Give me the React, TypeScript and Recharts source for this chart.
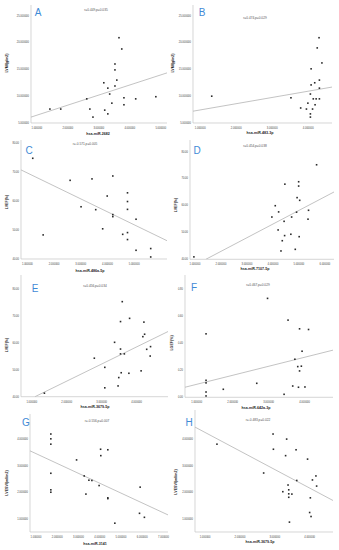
import React from 'react';
import { ScatterChart, Scatter, XAxis, YAxis } from 'recharts';

type P = { x: number; y: number };
const mk = (arr: number[][]): P[] => arr.map(([x, y]) => ({ x, y }));

// ---- Panel A ----
const pointsA = mk([[1.42,7.6],[1.77,7.6],[2.61,9.5],[2.71,7.6],[2.81,6.1],[3.16,12.5],[3.19,7.4],[3.29,11.5],[3.29,6.7],[3.35,10.4],[3.42,8.7],[3.52,16.0],[3.52,14.9],[3.52,11.9],[3.58,13.0],[3.65,20.9],[3.74,18.8],[3.81,9.7],[3.81,8.4],[4.19,9.5],[4.84,9.9]]);
const fitA = mk([[0.81,6.1],[5.23,14.4]]);
// ---- Panel B ----
const pointsB = mk([[1.32,10.0],[3.52,9.7],[3.79,7.8],[3.95,7.6],[3.99,8.7],[4.06,10.4],[4.08,12.1],[4.08,15.1],[4.06,6.7],[4.06,6.1],[4.12,7.6],[4.14,9.5],[4.18,12.5],[4.19,8.4],[4.22,9.5],[4.25,19.0],[4.30,20.9],[4.31,13.0],[4.31,11.5],[4.31,9.5],[4.38,16.2]]);
const fitB = mk([[0.80,7.2],[4.66,11.7]]);
// ---- Panel C ----
const pointsC = mk([[1.20,74.7],[1.59,48.3],[2.60,67.1],[3.01,58.0],[3.42,67.6],[3.56,57.0],[3.82,50.4],[3.99,61.7],[4.20,68.6],[4.20,55.3],[4.20,54.6],[4.57,48.5],[4.75,62.8],[4.75,59.8],[4.75,57.1],[4.75,49.1],[4.75,46.7],[5.07,53.7],[5.07,43.0],[5.62,43.6],[5.62,40.7]]);
const fitC = mk([[0.76,70.7],[6.23,46.3]]);
// ---- Panel D ----
const pointsD = mk([[0.96,40.9],[4.31,43.1],[4.36,46.9],[4.45,48.8],[4.20,50.9],[3.96,55.7],[4.43,54.1],[4.22,57.6],[4.09,59.9],[4.46,67.9],[4.69,49.3],[4.72,55.7],[4.86,43.7],[4.91,57.5],[4.93,62.9],[4.99,68.8],[4.99,67.2],[5.03,61.9],[5.01,48.4],[5.35,54.9],[5.37,58.2],[5.68,75.1]]);
const fitD = mk([[1.42,40],[6.35,65.0]]);
// ---- Panel E ----
const pointsE = mk([[1.36,41.3],[2.79,54.3],[3.09,50.9],[3.09,43.3],[3.37,60.2],[3.47,44.0],[3.49,47.1],[3.54,57.7],[3.54,55.9],[3.54,67.9],[3.56,48.9],[3.59,75.3],[3.65,55.9],[3.78,48.7],[3.80,69.1],[4.13,49.6],[4.18,62.3],[4.21,67.7],[4.23,63.2],[4.29,57.6],[4.39,55.1],[4.40,58.6]]);
const fitE = mk([[1.09,40],[4.90,64.2]]);
// ---- Panel F ----
const pointsF = mk([[1.26,0.467],[1.26,0.125],[1.26,0.106],[1.26,0.039],[1.26,0.010],[1.74,0.059],[2.67,0.103],[2.97,0.728],[3.43,0.022],[3.54,0.568],[3.67,0.083],[3.73,0.280],[3.81,0.226],[3.83,0.074],[3.86,0.504],[3.86,0.194],[3.91,0.229],[3.93,0.339],[4.01,0.076],[4.11,0.499]]);
const fitF = mk([[0.675,0.074],[4.79,0.347]]);
// ---- Panel G ----
const pointsG = mk([[1.70,4.19],[1.70,4.01],[1.70,3.81],[1.70,2.72],[1.70,2.10],[1.70,2.01],[2.91,3.22],[3.27,2.62],[3.35,1.94],[3.49,2.46],[3.63,2.45],[3.97,2.26],[4.04,3.62],[4.05,3.38],[4.38,3.60],[4.38,1.80],[4.38,1.77],[4.71,0.85],[5.90,2.20],[5.87,1.22],[6.10,1.07]]);
const fitG = mk([[0.72,3.56],[7.21,1.16]]);
// ---- Panel H ----
const pointsH = mk([[1.34,3.81],[2.68,2.73],[2.95,4.19],[2.96,3.62],[3.23,2.03],[3.31,3.38],[3.34,4.00],[3.38,2.28],[3.40,2.10],[3.40,1.95],[3.40,1.82],[3.49,1.94],[3.42,0.89],[3.61,3.60],[3.63,2.45],[3.94,3.25],[4.00,1.25],[4.02,1.80],[4.04,1.10],[4.08,2.47],[4.18,2.62],[4.20,2.24]]);
const fitH = mk([[0.71,4.45],[4.67,1.70]]);

const ticksLVMI = [5, 10, 15, 20, 25];
const ticksLVEF = [40, 50, 60, 70, 80];
const ticksLGEF = [0, 0.2, 0.4, 0.6, 0.8];
const ticksLVESV = [1, 2, 3, 4];
const ticksX4 = [1, 2, 3, 4];
const ticksX5 = [1, 2, 3, 4, 5];
const ticksX6 = [1, 2, 3, 4, 5, 6];
const ticksX7 = [1, 2, 3, 4, 5, 6, 7];

const letters = ['A', 'B', 'C', 'D', 'E', 'F', 'G', 'H'];
const stats = ['r=0.449,p=0.035', 'r=0.474,p=0.029', 'r=-0.571,p=0.005', 'r=0.454,p=0.038', 'r=0.456,p=0.034', 'r=0.467,p=0.029', 'r=-0.556,p=0.007', 'r=-0.483,p=0.022'];
const xTitles = ['hsa-miR-2682', 'hsa-miR-483-3p', 'hsa-miR-486a-5p', 'hsa-miR-7107-5p', 'hsa-miR-3679-5p', 'hsa-miR-642a-3p', 'hsa-miR-3141', 'hsa-miR-3679-5p'];
const yTitles = ['LVMI(g/m2)', 'LVMI(g/m2)', 'LVEF(%)', 'LVEF(%)', 'LVEF(%)', 'LGEF(%)', 'LVESVI(ml/m2)', 'LVESVI(ml/m2)'];

type Cfg = {
  px: number; py: number; w: number; h: number;
  l: number; t: number; r: number; b: number;
  xd: [number, number]; yd: [number, number];
  xt: number[]; yt: number[]; yf: number;
  pts: P[]; fit: P[];
  letter: [number, number]; stat: [number, number]; xTitle: [number, number]; yTitle: [number, number];
};

const panels: Cfg[] = [
  { px: 0, py: 0, w: 170, h: 140, l: 31, t: 5, r: 167, b: 123, xd: [0.81, 5.2], yd: [5, 27], xt: ticksX5, yt: ticksLVMI, yf: 6, pts: pointsA, fit: fitA, letter: [38, 13], stat: [96, 11], xTitle: [98, 135], yTitle: [8, 63] },
  { px: 170, py: 0, w: 169, h: 140, l: 23, t: 5, r: 162, b: 123, xd: [0.8, 4.66], yd: [5, 27], xt: ticksX4, yt: ticksLVMI, yf: 6, pts: pointsB, fit: fitB, letter: [32, 13], stat: [85, 19], xTitle: [90, 134], yTitle: [4, 63] },
  { px: 0, py: 140, w: 170, h: 135, l: 21, t: 0, r: 167, b: 119, xd: [0.76, 6.23], yd: [40, 81], xt: ticksX5, yt: ticksLVEF, yf: 2, pts: pointsC, fit: fitC, letter: [29, 11], stat: [85, 5], xTitle: [90, 132], yTitle: [8, 62] },
  { px: 170, py: 140, w: 169, h: 135, l: 20, t: 0, r: 164, b: 119.3, xd: [0.81, 6.35], yd: [40, 84.3], xt: ticksX6, yt: ticksLVEF, yf: 2, pts: pointsD, fit: fitD, letter: [27, 11], stat: [85, 7], xTitle: [85, 130], yTitle: [7, 65] },
  { px: 0, py: 275, w: 170, h: 135, l: 21, t: 0, r: 168, b: 121.7, xd: [0.69, 4.9], yd: [40, 85.2], xt: ticksX4, yt: ticksLVEF, yf: 2, pts: pointsE, fit: fitE, letter: [35, 14], stat: [95, 12], xTitle: [95, 133], yTitle: [8, 70] },
  { px: 170, py: 275, w: 169, h: 135, l: 15, t: 0, r: 163, b: 122.3, xd: [0.675, 4.79], yd: [0, 0.9], xt: ticksX4, yt: ticksLGEF, yf: 2, pts: pointsF, fit: fitF, letter: [24, 13], stat: [88, 11], xTitle: [86, 134], yTitle: [3, 68] },
  { px: 0, py: 410, w: 170, h: 140, l: 30, t: 4, r: 168, b: 122, xd: [0.72, 7.21], yd: [0.52, 4.94], xt: ticksX7, yt: ticksLVESV, yf: 6, pts: pointsG, fit: fitG, letter: [26, 13], stat: [97, 12], xTitle: [95, 135], yTitle: [8, 73] },
  { px: 170, py: 410, w: 169, h: 140, l: 25, t: 0, r: 163, b: 122, xd: [0.71, 4.67], yd: [0.52, 5.09], xt: ticksX4, yt: ticksLVESV, yf: 6, pts: pointsH, fit: fitH, letter: [19, 13], stat: [88, 11], xTitle: [90, 133], yTitle: [7, 72] },
];

const FONT = '"Liberation Sans", Arial, sans-serif';
const Dot = (p: any) => <rect x={p.cx - 0.8} y={p.cy - 0.8} width={1.6} height={1.6} fill="#2a2a2a" />;
const NoDot = () => <g />;

function Panel({ c, i }: { c: Cfg; i: number }) {
  const tickStyle = { fontSize: 2.6, fill: '#444', fontFamily: FONT };
  return (
    <div style={{ position: 'absolute', left: c.px, top: c.py, width: c.w, height: c.h }}>
      <ScatterChart width={c.w} height={c.h} margin={{ left: c.l - 1, top: c.t, right: c.w - c.r, bottom: c.h - c.b - 1 }}>
        <XAxis type="number" dataKey="x" domain={c.xd} ticks={c.xt} allowDataOverflow height={1}
          tick={tickStyle} tickLine={false} tickSize={0} tickMargin={4}
          axisLine={{ stroke: '#c4c4c4', strokeWidth: 0.7 }} tickFormatter={(v: number) => v.toFixed(6)} />
        <YAxis type="number" dataKey="y" domain={c.yd} ticks={c.yt} allowDataOverflow width={1}
          tick={tickStyle} tickLine={false} tickSize={0} tickMargin={2}
          axisLine={{ stroke: '#c4c4c4', strokeWidth: 0.7 }} tickFormatter={(v: number) => v.toFixed(c.yf)} />
        <Scatter data={c.fit} line={{ stroke: '#b4b4b4', strokeWidth: 0.8 }} shape={NoDot} isAnimationActive={false} legendType="none" />
        <Scatter data={c.pts} shape={Dot} isAnimationActive={false} legendType="none" />
      </ScatterChart>
      <div style={{ position: 'absolute', left: c.letter[0], top: c.letter[1], transform: 'translate(-50%,-50%)', color: '#3f8ad6', fontSize: 10, fontFamily: FONT, lineHeight: 1 }}>{letters[i]}</div>
      <div style={{ position: 'absolute', left: c.stat[0], top: c.stat[1], transform: 'translate(-50%,-50%)', color: '#555', fontSize: 3.2, fontFamily: FONT, whiteSpace: 'nowrap', lineHeight: 1 }}>{stats[i]}</div>
      <div style={{ position: 'absolute', left: c.xTitle[0], top: c.xTitle[1], transform: 'translate(-50%,-50%)', color: '#222', fontSize: 3.6, fontWeight: 'bold', fontFamily: FONT, whiteSpace: 'nowrap', lineHeight: 1 }}>{xTitles[i]}</div>
      <div style={{ position: 'absolute', left: c.yTitle[0], top: c.yTitle[1], transform: 'translate(-50%,-50%) rotate(-90deg)', color: '#222', fontSize: 3.6, fontWeight: 'bold', fontFamily: FONT, whiteSpace: 'nowrap', lineHeight: 1 }}>{yTitles[i]}</div>
    </div>
  );
}

export default function App() {
  return (
    <div style={{ position: 'absolute', left: 0, top: 0, width: 339, height: 550, background: '#fff', overflow: 'hidden' }}>
      {panels.map((c, i) => <Panel key={i} c={c} i={i} />)}
    </div>
  );
}
